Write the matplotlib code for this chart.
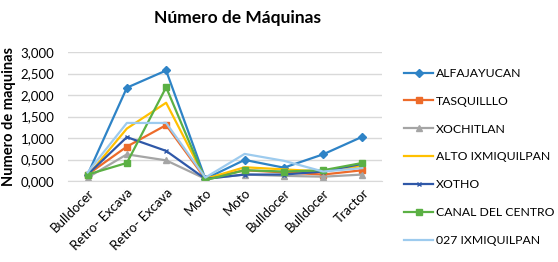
import matplotlib
matplotlib.use("Agg")
import matplotlib.pyplot as plt
from matplotlib.ticker import FuncFormatter

categories = ["Bulldocer", "Retro- Excava", "Retro- Excava", "Moto", "Moto",
              "Bulldocer", "Bulldocer", "Tractor"]
series_names = ["ALFAJAYUCAN", "TASQUILLLO", "XOCHITLAN", "ALTO IXMIQUILPAN",
                "XOTHO", "CANAL DEL CENTRO", "027 IXMIQUILPAN"]
alfajayucan = [0.15, 2.17, 2.57, 0.05, 0.49, 0.31, 0.62, 1.03]
tasquillo = [0.15, 0.80, 1.30, 0.05, 0.25, 0.20, 0.15, 0.25]
xochitlan = [0.08, 0.62, 0.48, 0.05, 0.15, 0.12, 0.10, 0.15]
alto_ixmiquilpan = [0.12, 1.22, 1.82, 0.05, 0.32, 0.27, 0.22, 0.35]
xotho = [0.15, 1.02, 0.70, 0.05, 0.15, 0.15, 0.22, 0.40]
canal_del_centro = [0.15, 0.42, 2.18, 0.02, 0.25, 0.22, 0.25, 0.42]
ixmiquilpan_027 = [0.20, 1.35, 1.35, 0.08, 0.63, 0.47, 0.22, 0.30]
yticks = [0, 0.5, 1.0, 1.5, 2.0, 2.5, 3.0]

data = [alfajayucan, tasquillo, xochitlan, alto_ixmiquilpan, xotho,
        canal_del_centro, ixmiquilpan_027]
colors = ["#2E83C6", "#ED6B2A", "#A5A5A5", "#FFC000", "#2F58A8", "#5BB044", "#9DCBEE"]
markers = ["D", "s", "^", None, "x", "s", None]
msizes = [4, 5, 5, 0, 3.5, 5, 0]

plt.rcParams['font.family'] = ['Lato', 'DejaVu Sans']

fig = plt.figure(figsize=(5.58, 2.62), dpi=100)
ax = fig.add_axes([68/558, 1-181/262, (382-68)/558, (181-52)/262])

x = list(range(len(categories)))
for vals, name, c, m, ms in zip(data, series_names, colors, markers, msizes):
    ax.plot(x, vals, color=c, lw=1.6, marker=m, markersize=ms, label=name,
            markeredgecolor=c, markerfacecolor=c, markeredgewidth=1.0)

ax.set_xlim(-0.5, len(categories) - 0.5)
ax.set_ylim(0, 3.0)
ax.set_yticks(yticks)
ax.yaxis.set_major_formatter(FuncFormatter(lambda v, p: f"{v:,.3f}".replace(".", ",")))
ax.set_xticks(x)
ax.set_xticklabels(categories, rotation=45, ha="right", rotation_mode="anchor",
                   fontsize=9.5)
ax.tick_params(axis="y", labelsize=9.5, length=0)
ax.tick_params(axis="x", length=0, pad=4)
for lab in ax.get_yticklabels():
    lab.set_horizontalalignment("left")
ax.yaxis.set_tick_params(pad=34)
ax.grid(axis="y", color="#D9D9D9", lw=1)
ax.set_axisbelow(True)
for s in ["top", "right", "left"]:
    ax.spines[s].set_visible(False)
ax.spines["bottom"].set_color("#D9D9D9")

fig.text(9.5/558, 1-116/262, "Numero de maquinas", fontsize=10.5, fontweight="bold",
         rotation=90, ha="center", va="center")

fig.text(237/558, 1-18/262, "Número de Máquinas", fontsize=12.5, fontweight="bold",
         ha="center", va="center")

fig.legend(loc="upper left", bbox_to_anchor=(399/558, 1-63/262), frameon=False,
           fontsize=8.8, handlelength=2.4, labelspacing=1.38, handletextpad=0.2,
           borderaxespad=0)

fig.savefig("out.png", dpi=100)
